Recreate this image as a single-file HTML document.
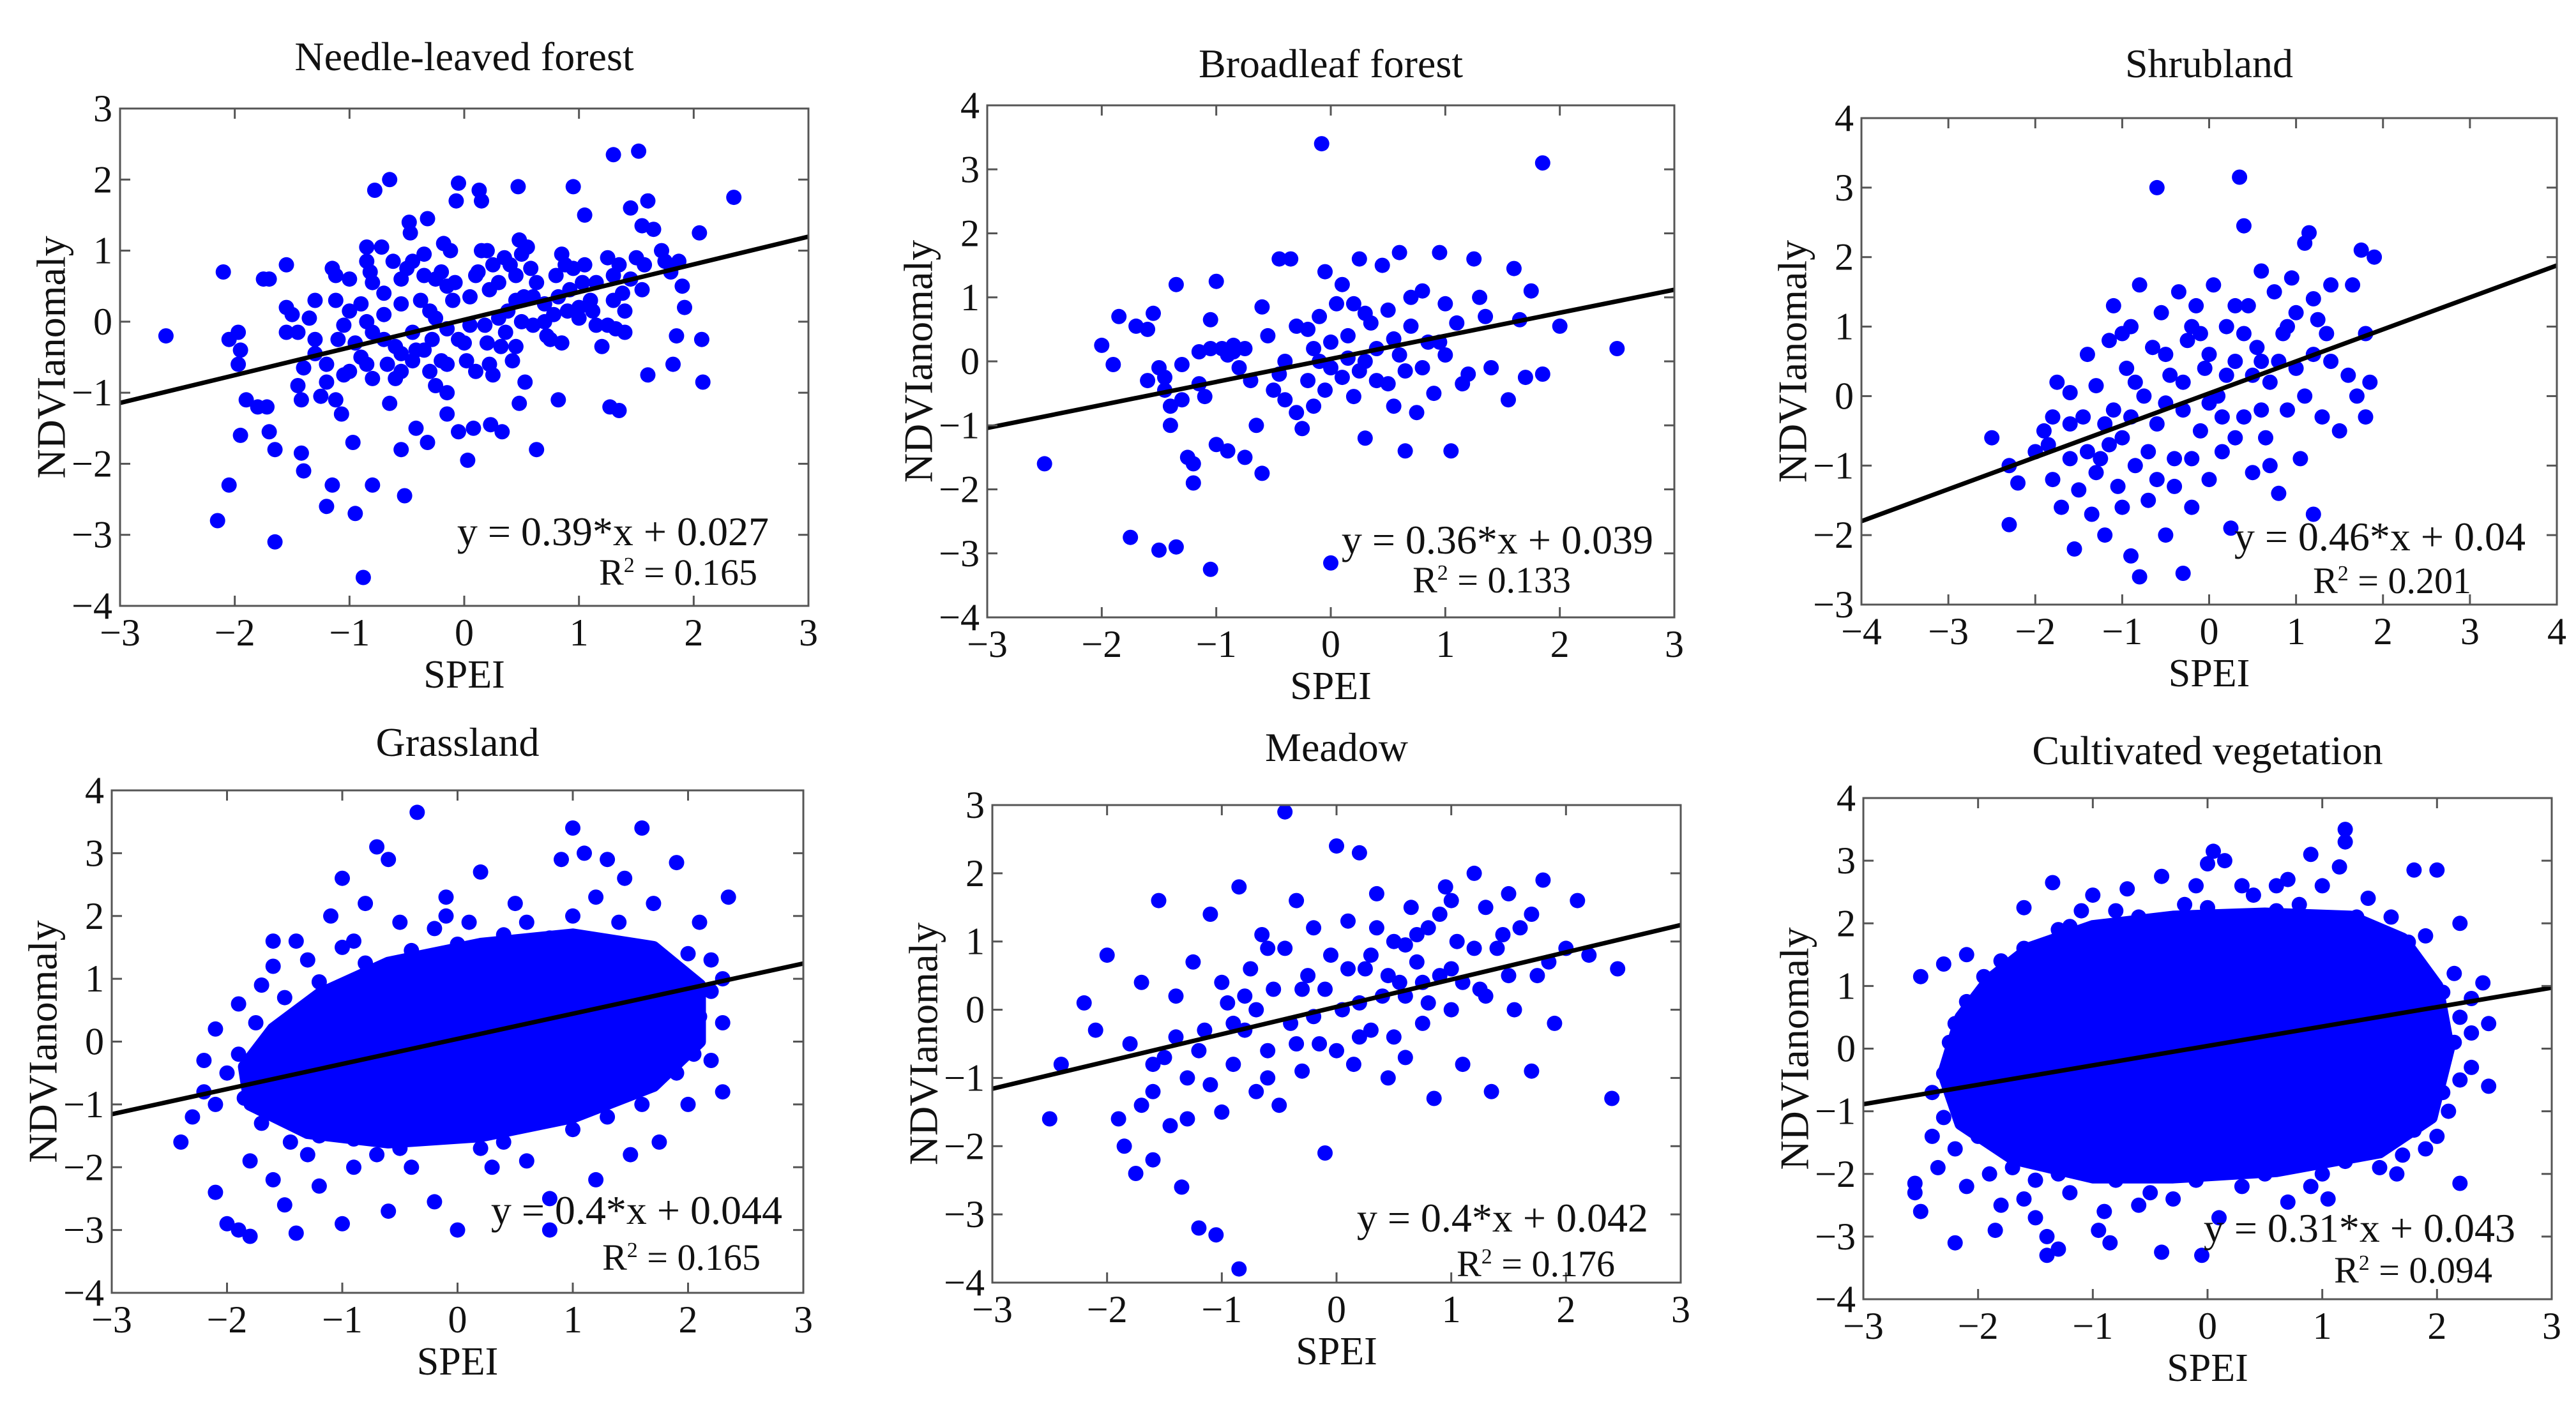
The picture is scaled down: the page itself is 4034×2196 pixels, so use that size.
<!DOCTYPE html>
<html><head><meta charset="utf-8">
<style>
html,body{margin:0;padding:0;background:#fff;}
svg{display:block;}
svg text{font-family:"Liberation Serif","DejaVu Serif",serif;}
</style></head>
<body>
<svg id="fig" width="4034" height="2196" viewBox="0 0 4034 2196"></svg>
<script>
// ---- data ----
const panelTitles = ["Needle-leaved forest","Broadleaf forest","Shrubland","Grassland","Meadow","Cultivated vegetation"];
const slopes = [0.39,0.36,0.46,0.4,0.4,0.31];
const intercepts = [0.027,0.039,0.04,0.044,0.042,0.043];
const equations = ["y = 0.39*x + 0.027","y = 0.36*x + 0.039","y = 0.46*x + 0.04","y = 0.4*x + 0.044","y = 0.4*x + 0.042","y = 0.31*x + 0.043"];
const r2Values = ["0.165","0.133","0.201","0.165","0.176","0.094"];
const xLimits = [[-3,3],[-3,3],[-4,4],[-3,3],[-3,3],[-3,3]];
const yLimits = [[-4,3],[-4,4],[-3,4],[-4,4],[-4,3],[-4,4]];

const needlePoints = [[-2.6,-0.2],[-2.1,0.7],[-2.05,-0.25],[-1.97,-0.15],[-1.95,-0.4],[-1.97,-0.6],[-1.9,-1.1],[-1.95,-1.6],[-2.05,-2.3],[-2.15,-2.8],[-1.75,0.6],[-1.7,0.6],[-1.8,-1.2],[-1.72,-1.2],[-1.7,-1.55],[-1.65,-1.8],[-1.65,-3.1],[-1.55,0.8],[-1.55,0.2],[-1.5,0.1],[-1.55,-0.15],[-1.45,-0.15],[-1.4,-0.65],[-1.45,-0.9],[-1.42,-1.1],[-1.42,-1.85],[-1.4,-2.1],[-1.3,0.3],[-1.35,0.05],[-1.3,-0.45],[-1.2,-0.6],[-1.2,-0.85],[-1.25,-1.05],[-1.2,-2.6],[-1.15,0.75],[-1.12,0.65],[-1.12,0.3],[-1.1,-0.25],[-1.12,-1.1],[-1.07,-1.3],[-1.15,-2.3],[-1.05,-0.05],[-1.05,-0.75],[-1.0,-0.7],[-1.0,0.15],[-1.0,0.6],[-0.97,-1.7],[-0.95,-2.7],[-0.9,-0.5],[-0.88,-3.6],[-0.85,1.05],[-0.85,0.85],[-0.82,0.7],[-0.8,0.55],[-0.85,0.0],[-0.8,-0.15],[-0.85,-0.6],[-0.8,-0.8],[-0.78,1.85],[-0.8,-2.3],[-0.72,1.05],[-0.7,0.4],[-0.7,0.1],[-0.67,-0.6],[-0.65,-1.15],[-0.65,2.0],[-0.6,-0.35],[-0.6,-0.8],[-0.55,0.6],[-0.55,0.25],[-0.55,-0.45],[-0.55,-0.7],[-0.55,-1.8],[-0.52,-2.45],[-0.5,0.75],[-0.48,1.4],[-0.47,1.25],[-0.45,0.85],[-0.45,-0.15],[-0.45,-0.55],[-0.42,-0.4],[-0.42,-1.5],[-0.35,0.95],[-0.35,0.65],[-0.32,1.45],[-0.3,0.15],[-0.3,-0.7],[-0.32,-1.7],[-0.28,-0.25],[-0.25,0.6],[-0.2,0.7],[-0.2,-0.55],[-0.18,1.1],[-0.15,0.5],[-0.15,-0.1],[-0.15,-0.6],[-0.15,-1.0],[-0.15,-1.3],[-0.12,1.0],[-0.1,0.3],[-0.05,-0.25],[-0.05,1.95],[-0.07,1.7],[-0.05,-1.55],[0.0,-0.3],[0.02,-0.55],[0.03,-1.95],[0.05,0.35],[0.05,-0.05],[0.08,-1.5],[0.1,0.65],[0.12,0.7],[0.13,1.85],[0.15,1.7],[0.15,1.0],[0.18,-0.05],[0.2,-0.3],[0.2,1.0],[0.22,0.45],[0.22,-0.6],[0.23,-1.45],[0.25,0.8],[0.25,-0.75],[0.3,0.05],[0.32,-0.35],[0.33,-1.55],[0.35,0.9],[0.36,-0.15],[0.4,0.8],[0.42,-0.55],[0.45,0.3],[0.45,0.65],[0.47,1.9],[0.48,1.15],[0.48,-1.15],[0.5,0.95],[0.5,0.0],[0.52,0.35],[0.53,-0.85],[0.55,1.05],[0.58,0.75],[0.6,-0.05],[0.63,0.55],[0.63,-1.8],[0.7,0.25],[0.7,0.0],[0.72,-0.2],[0.75,-0.25],[0.8,0.65],[0.82,0.35],[0.85,0.95],[0.82,-1.1],[0.88,0.8],[0.9,0.15],[0.95,0.75],[0.95,1.9],[1.0,0.2],[1.0,0.05],[1.03,0.55],[1.05,0.8],[1.05,1.5],[1.1,0.3],[1.12,0.15],[1.15,-0.05],[1.2,-0.35],[1.25,0.9],[1.25,-0.05],[1.27,-1.2],[1.3,2.35],[1.3,0.65],[1.3,0.3],[1.32,-0.1],[1.35,0.8],[1.35,-1.25],[1.38,0.4],[1.4,-0.15],[1.45,0.6],[1.45,1.6],[1.5,0.9],[1.52,2.4],[1.55,1.35],[1.55,0.45],[1.57,0.8],[1.6,-0.75],[1.6,1.7],[1.65,1.3],[1.72,1.0],[1.75,0.85],[1.8,0.7],[1.82,-0.6],[1.85,-0.2],[1.87,0.85],[1.9,0.5],[1.92,0.2],[2.05,1.25],[2.07,-0.25],[2.08,-0.85],[2.35,1.75],[-0.9,0.25],[-0.62,0.85],[-0.38,0.3],[-0.25,0.05],[-0.08,0.55],[0.3,0.55],[0.38,0.15],[0.6,0.35],[0.78,0.1],[0.92,0.45],[1.15,0.55],[1.4,0.15],[-1.3,-0.25],[-0.95,-0.3],[-0.7,-0.25],[-0.35,-0.4],[0.1,-0.7],[0.45,-0.35],[-0.25,-0.9],[0.85,-0.3]];

const broadleafPoints = [[-2.5,-1.6],[-2.0,0.25],[-1.9,-0.05],[-1.85,0.7],[-1.75,-2.75],[-1.7,0.55],[-1.6,-0.3],[-1.55,0.75],[-1.5,-0.1],[-1.5,-2.95],[-1.45,-0.45],[-1.4,-0.7],[-1.4,-1.0],[-1.35,-2.9],[-1.35,1.2],[-1.3,-0.05],[-1.3,-0.6],[-1.25,-1.5],[-1.2,-1.9],[-1.2,-1.6],[-1.15,-0.35],[-1.1,-0.55],[-1.05,0.2],[-1.05,0.65],[-1.0,1.25],[-1.05,-3.25],[-1.0,-1.3],[-0.95,0.2],[-0.9,-1.4],[-0.85,0.15],[-0.8,-0.1],[-0.75,-1.5],[-0.75,0.2],[-0.7,-0.3],[-0.65,-1.0],[-0.6,-1.75],[-0.55,0.4],[-0.5,-0.45],[-0.45,1.6],[-0.4,-0.6],[-0.35,1.6],[-0.3,0.55],[-0.25,-1.05],[-0.2,0.5],[-0.2,-0.3],[-0.15,0.2],[-0.1,0.0],[-0.1,0.7],[-0.08,3.4],[-0.05,1.4],[-0.05,-0.45],[0.0,-3.15],[0.0,0.3],[0.05,0.9],[0.1,-0.25],[0.1,1.2],[0.15,0.4],[0.2,-0.55],[0.25,1.6],[0.3,0.0],[0.3,-1.2],[0.35,0.6],[0.4,-0.3],[0.45,1.5],[0.5,0.8],[0.5,-0.35],[0.55,-0.7],[0.6,1.7],[0.6,0.1],[0.65,-1.4],[0.7,0.55],[0.75,-0.8],[0.8,1.1],[0.85,0.3],[0.9,-0.5],[0.95,1.7],[1.0,0.9],[1.05,-1.4],[1.1,0.6],[1.2,-0.2],[1.25,1.6],[1.3,1.0],[1.4,-0.1],[1.55,-0.6],[1.6,1.45],[1.65,0.65],[1.7,-0.25],[1.75,1.1],[1.85,-0.2],[1.85,3.1],[2.0,0.55],[2.5,0.2],[0.7,1.0],[-0.6,0.85],[0.2,0.9],[-0.3,-0.8],[1.0,0.1],[0.4,0.2],[-1.6,0.5],[-0.9,0.1],[0.0,-0.1],[0.3,0.75],[-0.4,0.0],[0.8,-0.1],[-1.15,0.15],[-0.85,0.25],[0.15,0.05],[0.55,0.35],[0.95,0.3],[1.35,0.7],[-0.45,-0.2],[0.25,-0.15],[-1.45,-0.25],[0.65,-0.15],[1.15,-0.35],[-0.15,-0.7]];

const shrubPoints = [[-2.5,-0.6],[-2.3,-1.85],[-2.3,-1.0],[-2.2,-1.25],[-2.0,-0.8],[-1.9,-0.5],[-1.85,-0.7],[-1.8,-1.2],[-1.75,0.2],[-1.7,-1.6],[-1.6,-0.9],[-1.6,0.05],[-1.55,-2.2],[-1.5,-1.35],[-1.45,-0.3],[-1.4,0.6],[-1.35,-1.7],[-1.3,0.15],[-1.25,-0.9],[-1.2,-2.0],[-1.15,0.8],[-1.1,-0.2],[-1.1,1.3],[-1.05,-1.3],[-1.0,-0.6],[-0.95,0.4],[-0.9,-2.3],[-0.9,1.0],[-0.85,-1.0],[-0.8,1.6],[-0.8,-2.6],[-0.75,0.0],[-0.7,-1.5],[-0.65,0.7],[-0.6,3.0],[-0.6,-0.4],[-0.55,1.2],[-0.5,-2.0],[-0.45,0.3],[-0.4,-0.9],[-0.35,1.5],[-0.3,-2.55],[-0.3,-0.2],[-0.25,0.8],[-0.2,-1.6],[-0.15,1.3],[-0.1,-0.5],[-0.05,0.4],[0.0,-1.2],[0.05,1.6],[0.1,0.0],[0.15,-0.8],[0.2,1.0],[0.25,-1.9],[0.3,0.5],[0.35,3.15],[0.4,2.45],[0.4,-0.3],[0.45,1.3],[0.5,-1.1],[0.55,0.7],[0.6,1.8],[0.65,-0.6],[0.7,0.2],[0.75,1.5],[0.8,-1.4],[0.85,0.9],[0.9,-0.2],[0.95,1.7],[1.0,0.4],[1.05,-0.9],[1.1,2.2],[1.15,2.35],[1.2,0.6],[1.2,-1.7],[1.25,1.1],[1.3,-0.3],[1.35,0.9],[1.4,1.6],[1.5,-0.5],[1.6,0.3],[1.65,1.6],[1.7,0.0],[1.75,2.1],[1.8,0.9],[1.85,0.2],[1.9,2.0],[1.8,-0.3],[-1.0,0.9],[0.0,0.6],[0.5,0.3],[-0.5,-0.1],[0.3,-0.6],[-1.4,-0.8],[-0.2,1.0],[0.8,0.5],[1.0,1.2],[-0.7,-0.8],[0.6,-0.2],[-0.3,0.2],[-1.2,-0.4],[-0.9,-0.3],[0.2,0.3],[1.1,0.0],[-0.4,-1.3],[0.9,1.0],[-1.6,-0.4],[0.4,0.9],[-1.3,-1.1],[-1.0,-1.6],[-0.6,-1.2],[-0.2,-0.9],[0.15,-0.3],[0.6,0.5],[1.2,1.4],[-0.5,0.6],[-0.85,0.2],[0.3,1.3],[0.7,-1.0],[-1.15,-0.7],[-0.1,0.9],[1.4,0.5],[-1.8,-0.3],[0.0,-0.1]];

const grassCore = [[-1.85,-0.4],[-1.6,0.2],[-1.2,0.75],[-0.6,1.25],[0.2,1.55],[1.0,1.7],[1.7,1.5],[2.1,0.9],[2.1,0.0],[1.7,-0.7],[1.0,-1.2],[0.2,-1.5],[-0.6,-1.6],[-1.3,-1.45],[-1.8,-1.0]];
const grassPoints = [[-2.3,-1.2],[-2.2,-0.8],[-2.1,-2.4],[-2.0,-2.9],[-1.9,-3.0],[-1.8,-3.1],[-1.8,-1.9],[-1.7,0.9],[-1.6,-2.2],[-1.5,-2.6],[-1.4,-3.05],[-1.4,1.6],[-1.3,-1.8],[-1.2,-2.3],[-1.1,2.0],[-1.0,2.6],[-0.9,-2.0],[-0.8,2.2],[-0.7,3.1],[-0.6,2.9],[-0.6,-2.7],[-0.5,1.9],[-0.4,-2.0],[-0.35,3.65],[-0.2,-2.55],[-0.1,2.3],[0.0,-3.0],[0.1,1.9],[0.2,2.7],[0.3,-2.0],[0.5,2.2],[0.6,-1.9],[0.8,-2.5],[0.9,2.9],[1.0,3.4],[1.1,3.0],[1.2,2.3],[1.3,2.9],[1.45,2.6],[1.5,-1.8],[1.6,3.4],[1.7,2.2],[1.75,-1.6],[1.9,2.85],[2.0,-1.0],[2.1,1.9],[2.2,0.8],[2.3,-0.8],[2.35,2.3],[2.3,0.3],[-2.4,-1.6],[0.8,-3.0],[1.2,-2.2],[-1.0,-2.9],[-2.1,0.2],[-2.0,-0.5],[-1.9,0.6],[-1.6,1.2],[-1.3,1.3],[-0.9,1.6],[-0.2,1.8],[0.6,1.9],[1.4,1.9],[2.0,1.4],[2.3,1.0],[1.9,-0.5],[1.3,-1.2],[0.4,-1.6],[-0.5,-1.7],[-1.2,-1.5],[-1.7,-1.3],[-2.2,-0.3],[-1.9,-0.2],[-1.75,0.3],[-1.5,0.7],[-1.2,0.95],[-0.8,1.25],[-0.4,1.45],[0.0,1.55],[0.4,1.7],[0.8,1.65],[1.2,1.6],[1.6,1.5],[1.9,1.1],[2.1,0.4],[2.05,-0.2],[1.7,-0.6],[1.1,-0.9],[0.6,-1.25],[0.1,-1.45],[-0.3,-1.4],[-0.9,-1.55],[-1.3,-1.3],[-1.6,-1.0],[-1.85,-0.9],[-2.1,-1.0],[-1.45,-1.6],[-0.7,-1.8],[0.2,-1.7],[1.0,-1.4],[1.6,-1.0],[2.2,-0.3],[2.2,1.3],[1.0,2.0],[-0.1,2.0],[-1.0,1.5],[-1.6,1.6]];

const meadowPoints = [[-2.5,-1.6],[-2.4,-0.8],[-2.2,0.1],[-2.1,-0.3],[-2.0,0.8],[-1.9,-1.6],[-1.85,-2.0],[-1.8,-0.5],[-1.75,-2.4],[-1.7,0.4],[-1.6,-1.2],[-1.6,-2.2],[-1.55,1.6],[-1.5,-0.7],[-1.45,-1.7],[-1.4,0.2],[-1.35,-2.6],[-1.3,-1.0],[-1.25,0.7],[-1.2,-3.2],[-1.15,-0.3],[-1.1,1.4],[-1.05,-3.3],[-1.0,-1.5],[-0.95,0.1],[-0.9,-0.8],[-0.85,-3.8],[-0.85,1.8],[-0.8,-0.3],[-0.75,0.6],[-0.7,-1.2],[-0.65,1.1],[-0.6,-0.6],[-0.55,0.3],[-0.5,-1.4],[-0.45,2.9],[-0.45,0.9],[-0.4,-0.2],[-0.35,1.6],[-0.3,-0.9],[-0.25,0.5],[-0.2,1.2],[-0.15,-0.5],[-0.1,-2.1],[-0.05,0.8],[0.0,2.4],[0.05,0.0],[0.1,1.3],[0.15,-0.8],[0.2,2.3],[0.25,0.6],[0.3,-0.3],[0.35,1.7],[0.4,0.2],[0.45,-1.0],[0.5,1.0],[0.55,0.4],[0.6,-0.7],[0.65,1.5],[0.7,0.7],[0.75,-0.2],[0.8,1.2],[0.85,-1.3],[0.9,0.5],[0.95,1.8],[1.0,0.0],[1.05,1.0],[1.1,-0.8],[1.2,2.0],[1.25,0.3],[1.3,1.5],[1.35,-1.2],[1.4,0.9],[1.5,1.7],[1.55,0.0],[1.6,1.2],[1.7,-0.9],[1.75,0.5],[1.8,1.9],[1.85,0.7],[1.9,-0.2],[2.0,0.9],[2.1,1.6],[2.2,0.8],[2.4,-1.3],[2.45,0.6],[-0.6,0.9],[0.3,0.8],[-1.0,0.4],[0.6,0.2],[-0.2,-0.1],[1.0,0.6],[-1.4,-0.4],[0.0,-0.6],[0.8,0.1],[-1.2,-0.6],[-0.8,0.2],[0.2,0.1],[0.5,-0.4],[1.2,0.9],[-0.3,0.3],[0.9,1.4],[-1.6,-0.8],[1.5,0.5],[-0.9,-0.2],[0.1,0.6],[0.7,1.1],[1.3,0.2],[-1.7,-1.4],[-1.3,-1.6],[-0.6,-1.0],[-0.35,-0.5],[0.2,-0.4],[0.45,0.5],[0.6,0.95],[1.1,0.4],[1.45,1.1],[1.7,1.4],[-0.1,0.3],[0.35,1.2],[-0.7,0.0],[-1.1,-1.1],[1.0,1.6],[0.75,0.4]];

const cultCore = [[-2.15,0.5],[-1.9,1.1],[-1.55,1.6],[-1.0,1.95],[-0.3,2.1],[0.5,2.15],[1.25,2.1],[1.7,1.75],[2.0,1.0],[2.1,0.0],[1.95,-1.1],[1.5,-1.65],[0.6,-1.95],[-0.3,-2.05],[-1.0,-2.05],[-1.7,-1.75],[-2.15,-1.2],[-2.3,-0.4]];
const cultPoints = [[-2.5,1.15],[-2.3,1.35],[-2.55,-2.15],[-2.55,-2.3],[-2.5,-2.6],[-2.4,-1.4],[-2.35,-1.9],[-2.2,-3.1],[-2.1,-2.2],[-1.85,-2.9],[-1.8,-2.5],[-1.6,-2.4],[-1.5,-2.7],[-1.4,-3.0],[-1.4,-3.3],[-1.3,-3.2],[-1.35,2.65],[-1.6,2.25],[-1.1,2.2],[-0.9,-2.6],[-0.95,-2.9],[-0.85,-3.1],[-0.7,2.55],[-0.6,-2.5],[-0.4,2.75],[-0.4,-3.25],[-0.1,2.6],[0.0,2.95],[-0.05,-3.3],[0.05,3.15],[0.15,3.0],[0.3,2.6],[0.1,-2.7],[0.6,2.6],[0.7,2.7],[0.7,-2.45],[0.9,3.1],[1.0,2.6],[1.05,-2.4],[1.15,2.9],[1.2,3.5],[1.2,3.3],[1.8,2.85],[2.0,2.85],[2.2,2.0],[2.4,1.05],[2.45,0.4],[2.3,0.25],[2.3,-0.3],[2.45,-0.6],[2.2,-2.15],[1.7,-1.7],[1.65,-2.0],[2.0,-1.4],[2.2,-0.5],[2.15,1.2],[-2.25,0.1],[-2.2,-0.15],[-1.95,1.15],[-2.1,0.75],[-2.4,-0.7],[-2.2,-1.6],[-1.9,-2.0],[-1.2,-2.3],[-0.5,-2.3],[0.3,-2.2],[1.0,-2.0],[1.5,-1.9],[2.1,-1.0],[2.2,0.5],[1.9,1.8],[1.4,2.4],[0.8,2.3],[-0.2,2.3],[-0.8,2.2],[-1.3,1.9],[-1.8,1.4],[-2.2,0.4],[-2.3,-1.1],[-2.0,-1.4],[-1.7,-1.9],[-1.3,-2.0],[-0.8,-2.1],[-0.1,-2.1],[0.5,-2.0],[1.2,-1.8],[1.8,-1.3],[2.05,-0.7],[2.15,0.1],[2.05,0.9],[1.75,1.7],[1.3,2.1],[0.6,2.2],[0.0,2.25],[-0.6,2.1],[-1.2,1.95],[-1.6,1.6],[-1.95,0.8],[-2.3,-0.4],[-2.1,1.5],[-1.0,2.45],[0.4,2.45],[1.6,2.1],[2.3,0.8],[1.9,-1.6],[0.9,-2.2],[-0.3,-2.4],[-1.5,-2.1]];

const pointSets = [needlePoints, broadleafPoints, shrubPoints, grassPoints, meadowPoints, cultPoints];
const coreSets = [null, null, null, grassCore, null, cultCore];
const panelSlugs = ["needle-leaved","broadleaf","shrubland","grassland","meadow","cultivated"];

// ---- layout (pixels) ----
const boxes = [[188,170,1266,949],[1546,165,2622,967],[2915,185,4004,947],[175,1238,1258,2025],[1554,1261,2632,2009],[2918,1250,3996,2035]];
const titleY = [110,121,121,1184,1192,1197];
const eqOff = [[62,95,80,33],[33,100,162,39],[49,85,134,18],[33,108,67,36],[51,80,103,10],[57,90,93,26]];

const NS = "http://www.w3.org/2000/svg";
const svg = document.getElementById('fig');
function mk(tag, attrs, parent){
  const e = document.createElementNS(NS, tag);
  for (const k in attrs) e.setAttribute(k, attrs[k]);
  (parent||svg).appendChild(e);
  return e;
}
const FONT = '"Liberation Serif","DejaVu Serif",serif';

for (let p = 0; p < 6; p++){
  const [L,T,R,B] = boxes[p];
  const [x0,x1] = xLimits[p], [y0,y1] = yLimits[p];
  const sx = v => L + (v - x0) / (x1 - x0) * (R - L);
  const sy = v => B - (v - y0) / (y1 - y0) * (B - T);
  const g = mk('g', {});
  
  

  const clipId = 'clip' + p;
  const cp = mk('clipPath', {id: clipId}, g);
  mk('rect', {x:L, y:T, width:R-L, height:B-T}, cp);

  const t = mk('text', {x:(L+R)/2, y:titleY[p], 'font-size':64, 'font-family':FONT, 'text-anchor':'middle', fill:'#111'}, g);
  t.textContent = panelTitles[p];
  
  

  const marks = mk('g', {'clip-path':'url(#' + clipId + ')'}, g);
  
  
  if (coreSets[p]){
    const d = coreSets[p].map((pt,i) => (i ? 'L' : 'M') + sx(pt[0]).toFixed(1) + ' ' + sy(pt[1]).toFixed(1)).join(' ') + 'Z';
    const core = mk('path', {d:d, fill:'#0000ff', stroke:'#0000ff', 'stroke-width':20, 'stroke-linejoin':'round'}, marks);
    
    
  }
  for (const pt of pointSets[p]){
    const c = mk('circle', {cx:sx(pt[0]).toFixed(1), cy:sy(pt[1]).toFixed(1), r:12, fill:'#0000ff'}, marks);
    
    
  }

  const ln = mk('line', {x1:sx(x0), y1:sy(slopes[p]*x0 + intercepts[p]), x2:sx(x1), y2:sy(slopes[p]*x1 + intercepts[p]), stroke:'#000', 'stroke-width':7, 'clip-path':'url(#' + clipId + ')'}, g);
  
  

  const bx = mk('rect', {x:L, y:T, width:R-L, height:B-T, fill:'none', stroke:'#555', 'stroke-width':3}, g);
  
  

  for (let v = x0; v <= x1; v++){
    const X = sx(v);
    mk('line', {x1:X, y1:B, x2:X, y2:B-16, stroke:'#555', 'stroke-width':3}, g);
    mk('line', {x1:X, y1:T, x2:X, y2:T+16, stroke:'#555', 'stroke-width':3}, g);
    const tl = mk('text', {x:X, y:B+62, 'font-size':60, 'font-family':FONT, 'text-anchor':'middle', fill:'#111'}, g);
    tl.textContent = v < 0 ? '\u2212' + (-v) : String(v);
    
    
  }
  for (let v = y0; v <= y1; v++){
    const Y = sy(v);
    mk('line', {x1:L, y1:Y, x2:L+16, y2:Y, stroke:'#555', 'stroke-width':3}, g);
    mk('line', {x1:R, y1:Y, x2:R-16, y2:Y, stroke:'#555', 'stroke-width':3}, g);
    const tl = mk('text', {x:L-12, y:Y+20, 'font-size':60, 'font-family':FONT, 'text-anchor':'end', fill:'#111'}, g);
    tl.textContent = v < 0 ? '\u2212' + (-v) : String(v);
    
    
  }

  const xl = mk('text', {x:(L+R)/2, y:B+128, 'font-size':62, 'font-family':FONT, 'text-anchor':'middle', fill:'#111'}, g);
  xl.textContent = 'SPEI';
  
  
  const cy = (T+B)/2, cx = L-108;
  const yl = mk('text', {x:cx, y:cy, 'font-size':64, 'font-family':FONT, 'text-anchor':'middle', 'dominant-baseline':'central', fill:'#111', transform:'rotate(-90 ' + cx + ' ' + cy + ')'}, g);
  yl.textContent = 'NDVIanomaly';
  
  

  const o = eqOff[p];
  const eq = mk('text', {x:R-o[0], y:B-o[1], 'font-size':64, 'font-family':FONT, 'text-anchor':'end', fill:'#111'}, g);
  eq.textContent = equations[p];
  
  
  const r2 = mk('text', {x:R-o[2], y:B-o[3], 'font-size':58, 'font-family':FONT, 'text-anchor':'end', fill:'#111'}, g);
  
  
  const a = mk('tspan', {}, r2); a.textContent = 'R';
  const b = mk('tspan', {dy:-20, 'font-size':34}, r2); b.textContent = '2';
  const c = mk('tspan', {dy:20}, r2); c.textContent = ' = ' + r2Values[p];
}
</script>
</body></html>
